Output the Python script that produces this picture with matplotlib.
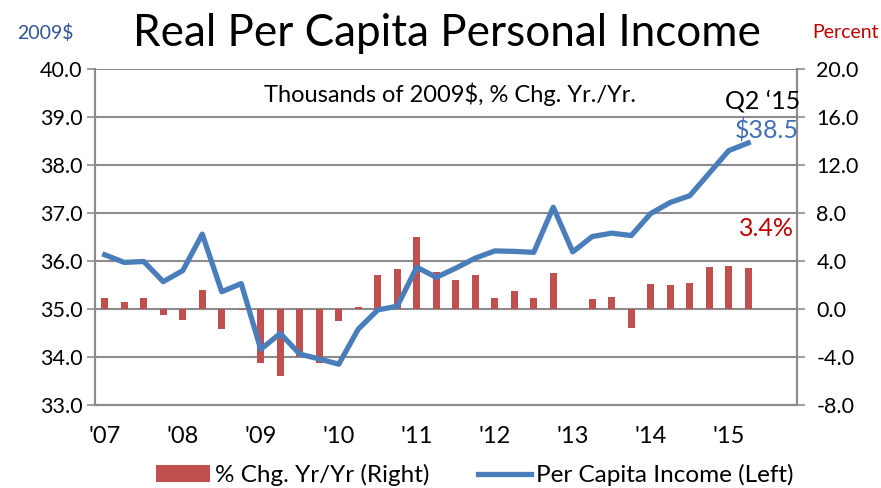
import numpy as np
import matplotlib
matplotlib.use('Agg')
import matplotlib.pyplot as plt
from matplotlib.patches import Patch
from matplotlib.lines import Line2D

plt.rcParams['font.family'] = ['Lato', 'DejaVu Sans']

year_labels = ["'07", "'08", "'09", "'10", "'11", "'12", "'13", "'14", "'15"]

# quarterly, 2007 Q1 .. 2015 Q2
pct_chg = [0.9, 0.6, 0.9, -0.5,
           -0.9, 1.6, -1.7, -0.1,
           -4.5, -5.6, -4.0, -4.5,
           -1.0, 0.2, 2.8, 3.3,
           6.0, 3.1, 2.4, 2.8,
           0.9, 1.5, 0.9, 3.0,
           0.0, 0.8, 1.0, -1.6,
           2.1, 2.0, 2.2, 3.5,
           3.6, 3.4]
income = [36.13, 35.97, 35.99, 35.57,
          35.80, 36.56, 35.36, 35.53,
          34.16, 34.49, 34.06, 33.96,
          33.85, 34.58, 34.98, 35.06,
          35.87, 35.66, 35.85, 36.06,
          36.21, 36.20, 36.18, 37.12,
          36.19, 36.51, 36.58, 36.53,
          36.99, 37.22, 37.36, 37.83,
          38.30, 38.46]

left_ticks = [33.0, 34.0, 35.0, 36.0, 37.0, 38.0, 39.0, 40.0]
right_ticks = [-8.0, -4.0, 0.0, 4.0, 8.0, 12.0, 16.0, 20.0]

bar_color = '#C0504D'
line_color = '#4A7EBB'
grid_color = '#8C8C8C'

W, H = 881, 488
fig = plt.figure(figsize=(W / 100, H / 100), dpi=100)
ax2 = fig.add_axes([95 / W, 1 - 405 / H, 702 / W, 336 / H])
ax = ax2.twinx()
ax2.yaxis.tick_right()
ax.yaxis.tick_left()
ax.set_zorder(ax2.get_zorder() + 1)
ax.patch.set_visible(False)

x = np.arange(len(income))
ax2.bar(x, pct_chg, width=0.38, color=bar_color, zorder=3)
ax.plot(x, income, color=line_color, lw=3.8, zorder=4)

ax.set_xlim(-0.5, 35.5)
ax.set_ylim(33, 40)
ax2.set_ylim(-8, 20)
ax.set_yticks(left_ticks)
ax.set_yticklabels(['%.1f' % v for v in left_ticks])
ax2.set_yticks(right_ticks)
ax2.set_yticklabels(['%.1f' % v for v in right_ticks])

ax2.grid(axis='y', color=grid_color, lw=1.5, zorder=0)
ax2.set_axisbelow(True)

# year ticks between categories, labels on each Q1
ax2.set_xticks(np.arange(-0.5, 36, 4))
ax2.set_xticklabels([])
ax2.set_xticks(np.arange(0, 33, 4), minor=True)
ax2.set_xticklabels(year_labels, minor=True)
ax2.tick_params(axis='x', which='minor', length=0, labelsize=17, pad=15)
ax2.tick_params(axis='x', which='major', length=6, width=1.2, color=grid_color)
ax.set_xticks([])

for a in (ax, ax2):
    for s in a.spines.values():
        s.set_color(grid_color)
        s.set_linewidth(1.5)
    a.spines['top'].set_visible(False)
ax.tick_params(axis='y', length=6, width=1.2, color=grid_color, labelsize=15.5, pad=3)
ax2.tick_params(axis='y', length=6, width=1.2, color=grid_color, labelsize=15.5, pad=8)

fig.text(17 / W, 1 - 33 / H, '2009$', color='#2F5597', fontsize=14, ha='left', va='center')
fig.text(447 / W, 1 - 33 / H, 'Real Per Capita Personal Income', fontsize=31.7, ha='center', va='center')
fig.text(879 / W, 1 - 33 / H, 'Percent', color='#C00000', fontsize=14, ha='right', va='center')

fig.text(450 / W, 1 - 94 / H, 'Thousands of 2009$, % Chg. Yr./Yr.', fontsize=17,
         ha='center', va='center')
fig.text(763 / W, 1 - 101 / H, 'Q2 \u201815', fontsize=18, ha='center', va='center')
fig.text(767 / W, 1 - 130 / H, '$38.5', color='#3F6FB5', fontsize=18, ha='center', va='center')
fig.text(766 / W, 1 - 228 / H, '3.4%', color='#C00000', fontsize=18, ha='center', va='center')

handles = [Patch(facecolor=bar_color, edgecolor='none'),
           Line2D([0], [0], color=line_color, lw=3.8)]
fig.legend(handles, ['% Chg. Yr/Yr (Right)', 'Per Capita Income (Left)'],
           loc='center', bbox_to_anchor=(475 / W, 1 - 475 / H), ncol=2, frameon=False,
           fontsize=17.5, handlelength=2.2, handletextpad=0.2, columnspacing=2.0)

fig.savefig('out.png', dpi=100)
